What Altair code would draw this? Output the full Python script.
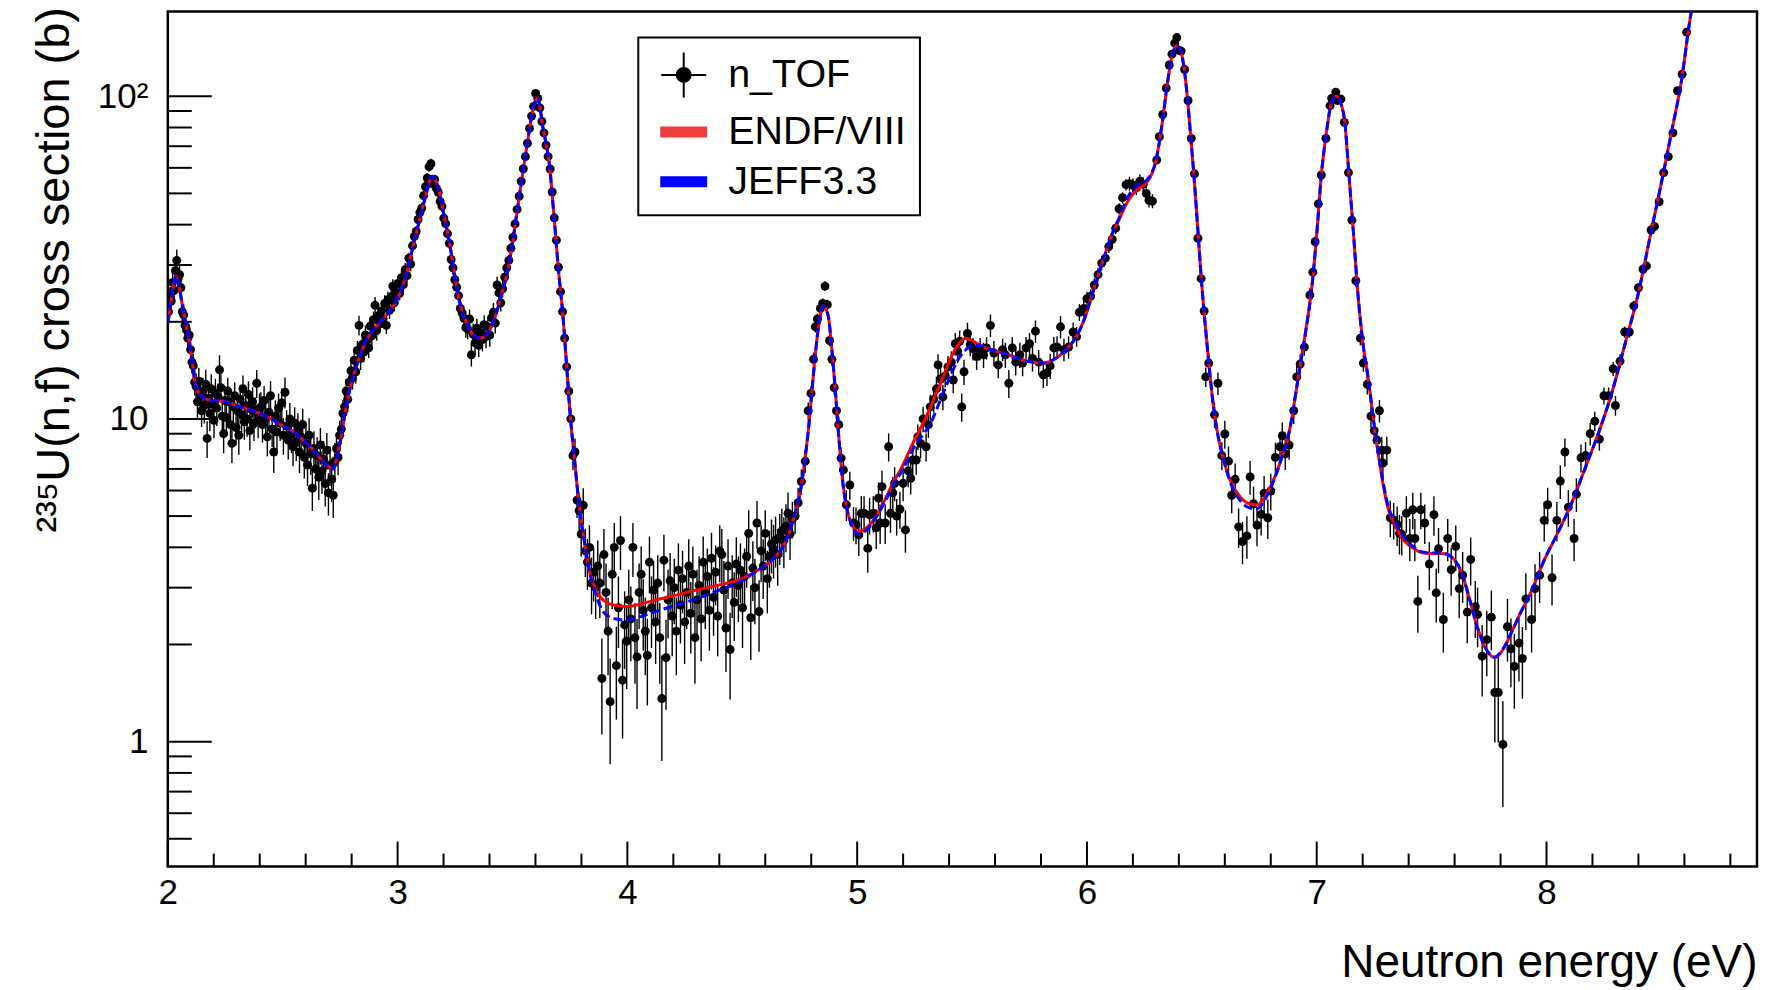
import altair as alt
import pandas as pd

FONT = "Liberation Sans"

# ---------------- axis ticks ----------------
X_MAJOR = [2, 3, 4, 5, 6, 7, 8]
X_MINOR = [2.2, 2.4, 2.6, 2.8, 3.2, 3.4, 3.6, 3.8, 4.2, 4.4, 4.6, 4.8, 5.2, 5.4, 5.6, 5.8,
           6.2, 6.4, 6.6, 6.8, 7.2, 7.4, 7.6, 7.8, 8.2, 8.4, 8.6, 8.8]
Y_MAJOR = [1, 10, 100]
Y_MINOR = [0.5, 0.6, 0.7, 0.8, 0.9, 2, 3, 4, 5, 6, 7, 8, 9, 20, 30, 40, 50, 60, 70, 80, 90]

SERIES = ["n_TOF", "ENDF/VIII", "JEFF3.3"]

# ---------------- evaluated data: (E, ENDF/VIII, JEFF3.3) ----------------
EVAL = [
    (2.000, 19.8, 19.8), (2.012, 22.5, 22.5), (2.024, 25.8, 25.8), (2.036, 27.8, 27.8),
    (2.048, 26.0, 26.0), (2.060, 23.2, 23.2), (2.075, 20.3, 20.3), (2.090, 18.0, 18.0),
    (2.105, 15.3, 15.3), (2.120, 12.8, 12.8), (2.140, 11.9, 11.9), (2.170, 11.5, 11.5),
    (2.200, 11.4, 11.4), (2.250, 11.3, 11.3), (2.300, 11.0, 11.0), (2.350, 10.7, 10.7),
    (2.400, 10.4, 10.4), (2.450, 10.0, 10.0), (2.500, 9.5, 9.5), (2.540, 9.2, 9.2),
    (2.580, 8.7, 8.7), (2.620, 8.2, 8.2), (2.660, 7.6, 7.6), (2.700, 7.1, 7.1),
    (2.720, 7.0, 7.0), (2.740, 7.8, 7.8), (2.760, 9.3, 9.3), (2.780, 11.3, 11.3),
    (2.800, 13.0, 13.0), (2.820, 14.5, 14.5), (2.840, 15.9, 15.9), (2.860, 17.3, 17.3),
    (2.890, 18.7, 18.7), (2.920, 19.8, 19.8), (2.950, 20.9, 20.9), (2.980, 22.3, 22.3),
    (3.010, 24.5, 24.5), (3.040, 28.3, 28.3), (3.070, 35.0, 35.0), (3.100, 42.5, 42.5),
    (3.125, 50.0, 50.0), (3.150, 56.5, 56.5), (3.165, 55.0, 55.0), (3.180, 51.0, 51.0),
    (3.200, 43.5, 43.5), (3.225, 35.5, 35.5), (3.250, 27.5, 27.5), (3.275, 22.3, 22.3),
    (3.300, 19.8, 19.8), (3.330, 18.2, 18.2), (3.360, 17.8, 17.8), (3.390, 18.4, 18.4),
    (3.420, 20.2, 20.2), (3.450, 24.0, 24.0), (3.480, 29.0, 29.0), (3.500, 35.0, 35.0),
    (3.520, 44.0, 44.0), (3.540, 55.0, 55.0), (3.560, 68.0, 68.0), (3.580, 84.0, 84.0),
    (3.600, 97.0, 97.0), (3.610, 99.0, 99.0), (3.620, 92.0, 92.0), (3.630, 82.0, 82.0),
    (3.645, 72.0, 72.0), (3.660, 62.0, 62.0), (3.680, 43.0, 43.0), (3.700, 29.0, 29.0),
    (3.720, 20.7, 20.7), (3.735, 14.8, 14.8), (3.750, 10.5, 10.5), (3.770, 7.5, 7.5),
    (3.790, 5.4, 5.4), (3.810, 4.3, 4.3), (3.830, 3.5, 3.5), (3.860, 2.97, 2.90),
    (3.900, 2.73, 2.50), (3.950, 2.64, 2.40), (4.000, 2.62, 2.38), (4.050, 2.66, 2.43),
    (4.100, 2.72, 2.50), (4.200, 2.83, 2.63), (4.300, 2.95, 2.77), (4.400, 3.06, 2.95),
    (4.500, 3.20, 3.15), (4.560, 3.37, 3.37), (4.620, 3.60, 3.60), (4.660, 3.85, 3.85),
    (4.700, 4.35, 4.35), (4.730, 5.1, 5.1), (4.743, 5.5, 5.5), (4.774, 7.6, 7.6),
    (4.790, 9.6, 9.6), (4.800, 11.5, 11.5), (4.820, 16.4, 16.4), (4.835, 20.0, 20.0),
    (4.852, 22.4, 22.4), (4.865, 21.8, 21.8), (4.875, 20.7, 20.7), (4.890, 16.4, 16.4),
    (4.906, 12.0, 12.0), (4.920, 8.8, 8.8), (4.938, 6.3, 6.3), (4.960, 5.1, 5.1),
    (4.985, 4.6, 4.55), (5.007, 4.48, 4.40), (5.040, 4.6, 4.52), (5.070, 4.85, 4.8),
    (5.100, 5.25, 5.2), (5.130, 5.8, 5.7), (5.160, 6.4, 6.3), (5.195, 7.1, 6.9),
    (5.225, 7.9, 7.6), (5.256, 8.8, 8.4), (5.290, 9.8, 9.0), (5.320, 10.9, 9.7),
    (5.350, 12.3, 10.9), (5.380, 13.8, 12.3), (5.410, 15.6, 13.8), (5.440, 17.0, 15.3),
    (5.470, 17.8, 16.3), (5.500, 17.5, 16.9), (5.530, 17.0, 16.9), (5.570, 16.5, 16.5),
    (5.620, 16.1, 16.1), (5.660, 15.8, 15.8), (5.710, 15.3, 15.3), (5.760, 15.0, 15.0),
    (5.815, 14.9, 14.9), (5.850, 15.2, 15.2), (5.880, 15.7, 15.7), (5.920, 16.7, 16.7),
    (5.950, 17.8, 17.8), (5.975, 19.3, 19.3), (6.000, 21.5, 21.5), (6.020, 24.0, 24.0),
    (6.050, 28.0, 28.0), (6.080, 32.5, 32.5), (6.100, 36.0, 36.0), (6.140, 41.5, 42.0),
    (6.180, 47.5, 49.0), (6.220, 51.5, 53.0), (6.260, 54.0, 55.0), (6.285, 58.0, 58.5),
    (6.300, 63.0, 63.0), (6.315, 72.0, 72.0), (6.330, 85.0, 85.0), (6.345, 103.0, 103.0),
    (6.360, 122.0, 122.0), (6.375, 137.0, 137.0), (6.390, 143.0, 143.0), (6.405, 140.0, 140.0),
    (6.420, 126.0, 126.0), (6.440, 94.0, 94.0), (6.455, 70.0, 70.0), (6.465, 57.5, 57.5),
    (6.475, 46.0, 46.0), (6.485, 36.5, 36.5), (6.497, 27.5, 27.5), (6.510, 21.3, 21.3),
    (6.530, 15.0, 15.0), (6.550, 11.0, 11.0), (6.570, 8.9, 8.9), (6.590, 7.7, 7.7),
    (6.630, 6.3, 6.2), (6.670, 5.7, 5.55), (6.710, 5.45, 5.3), (6.740, 5.42, 5.28),
    (6.790, 6.0, 5.9), (6.840, 7.3, 7.3), (6.884, 9.4, 9.4), (6.920, 13.5, 13.5),
    (6.950, 18.3, 18.3), (6.980, 26.1, 26.1), (7.000, 37.3, 37.3), (7.020, 57.0, 57.0),
    (7.043, 78.0, 78.0), (7.065, 96.0, 96.0), (7.085, 100.0, 100.0), (7.105, 95.0, 95.0),
    (7.123, 82.0, 82.0), (7.138, 60.0, 60.0), (7.160, 37.5, 37.5), (7.180, 24.0, 24.0),
    (7.200, 17.4, 17.4), (7.225, 13.2, 13.2), (7.250, 9.5, 9.6), (7.270, 7.6, 7.7),
    (7.290, 6.2, 6.3), (7.310, 5.3, 5.4), (7.340, 4.7, 4.8), (7.380, 4.2, 4.3),
    (7.420, 3.98, 4.02), (7.460, 3.85, 3.87), (7.500, 3.83, 3.84), (7.540, 3.83, 3.84),
    (7.570, 3.80, 3.80), (7.600, 3.65, 3.65), (7.630, 3.35, 3.35), (7.660, 2.85, 2.85),
    (7.700, 2.25, 2.25), (7.740, 1.92, 1.92), (7.775, 1.82, 1.83), (7.800, 1.88, 1.89),
    (7.820, 1.98, 1.99), (7.850, 2.2, 2.2), (7.880, 2.45, 2.45), (7.935, 2.93, 2.93),
    (7.990, 3.65, 3.65), (8.050, 4.45, 4.45), (8.110, 5.5, 5.5), (8.170, 7.1, 7.1),
    (8.225, 9.0, 9.0), (8.285, 12.1, 12.1), (8.340, 16.9, 16.9), (8.400, 24.6, 24.6),
    (8.455, 38.0, 38.0), (8.500, 54.0, 54.0), (8.545, 78.0, 78.0), (8.590, 115.0, 115.0),
    (8.620, 165.0, 165.0), (8.650, 220.0, 220.0),
]

# ---------------- n_TOF data: (E [eV], sigma [b], relative error) ----------------
NTOF_200 = [
    (2.003, 21.5, 0.07), (2.009, 24.0, 0.07), (2.015, 23.2, 0.08), (2.021, 26.5, 0.07),
    (2.027, 25.0, 0.08), (2.033, 28.8, 0.07), (2.039, 31.0, 0.08), (2.045, 27.2, 0.07),
    (2.051, 28.0, 0.07), (2.057, 25.5, 0.08), (2.063, 21.5, 0.07), (2.069, 21.0, 0.08),
    (2.075, 19.5, 0.08), (2.081, 18.9, 0.07), (2.087, 17.8, 0.08), (2.093, 18.2, 0.08),
    (2.099, 16.4, 0.09), (2.105, 15.0, 0.08), (2.111, 14.6, 0.09), (2.117, 13.0, 0.09),
]
NTOF_212 = [
    (2.123, 12.6, 0.10), (2.129, 11.3, 0.11), (2.135, 13.1, 0.10), (2.141, 11.9, 0.12),
    (2.147, 10.6, 0.11), (2.153, 12.2, 0.10), (2.159, 11.0, 0.12), (2.165, 12.8, 0.11),
    (2.171, 8.7, 0.13), (2.177, 11.6, 0.10), (2.183, 10.4, 0.12), (2.189, 12.4, 0.11),
    (2.195, 11.1, 0.10), (2.201, 9.9, 0.12), (2.207, 12.0, 0.11), (2.213, 10.8, 0.12),
    (2.219, 11.7, 0.10), (2.225, 14.2, 0.11), (2.231, 12.5, 0.10), (2.237, 10.2, 0.12),
    (2.243, 9.0, 0.13), (2.249, 11.4, 0.11), (2.255, 10.1, 0.12), (2.261, 12.2, 0.10),
    (2.267, 11.3, 0.11), (2.273, 9.6, 0.12), (2.279, 8.4, 0.13), (2.285, 10.9, 0.11),
    (2.291, 11.8, 0.10), (2.297, 9.4, 0.12), (2.303, 10.6, 0.11), (2.309, 8.9, 0.13),
    (2.315, 11.5, 0.11), (2.321, 10.3, 0.12), (2.327, 12.4, 0.10), (2.333, 9.8, 0.12),
    (2.339, 11.0, 0.11), (2.345, 10.0, 0.12), (2.351, 11.9, 0.10), (2.357, 9.2, 0.13),
    (2.363, 10.7, 0.11), (2.369, 11.3, 0.11), (2.375, 9.7, 0.12), (2.381, 10.5, 0.11),
    (2.387, 12.9, 0.10), (2.393, 9.9, 0.12), (2.399, 10.8, 0.11),
]
NTOF_240 = [
    (2.405, 10.9, 0.11), (2.412, 9.6, 0.12), (2.419, 11.4, 0.11), (2.426, 10.1, 0.12),
    (2.433, 8.8, 0.13), (2.440, 10.5, 0.11), (2.447, 11.8, 0.11), (2.454, 9.3, 0.12),
    (2.461, 7.9, 0.14), (2.468, 10.2, 0.12), (2.475, 9.1, 0.12), (2.482, 10.8, 0.11),
    (2.489, 9.7, 0.12), (2.496, 11.2, 0.11), (2.503, 8.9, 0.13), (2.510, 12.1, 0.11),
    (2.517, 9.5, 0.12), (2.524, 8.6, 0.13), (2.531, 10.0, 0.12), (2.538, 9.0, 0.13),
    (2.545, 8.2, 0.13), (2.552, 9.7, 0.12), (2.559, 8.5, 0.13), (2.566, 9.3, 0.12),
    (2.573, 7.9, 0.14), (2.580, 8.8, 0.13), (2.587, 9.6, 0.12), (2.594, 7.6, 0.14),
    (2.601, 8.4, 0.13), (2.608, 7.2, 0.14), (2.615, 8.9, 0.13), (2.622, 7.8, 0.14),
    (2.629, 6.1, 0.15), (2.636, 8.1, 0.13), (2.643, 7.0, 0.14), (2.650, 7.7, 0.14),
    (2.657, 6.6, 0.15), (2.664, 8.3, 0.13), (2.671, 6.9, 0.15), (2.678, 7.5, 0.14),
    (2.685, 6.3, 0.15), (2.692, 8.0, 0.13), (2.699, 5.9, 0.15), (2.706, 7.2, 0.14),
    (2.713, 6.5, 0.15), (2.720, 5.8, 0.15), (2.727, 7.4, 0.14),
]
NTOF_273 = [
    (2.734, 8.1, 0.12), (2.741, 7.6, 0.12), (2.748, 8.9, 0.11), (2.755, 9.3, 0.10),
    (2.762, 10.4, 0.10), (2.769, 10.9, 0.09), (2.776, 12.2, 0.09), (2.783, 11.5, 0.09),
    (2.790, 13.0, 0.08), (2.797, 14.1, 0.08), (2.804, 13.4, 0.08), (2.811, 15.2, 0.08),
    (2.818, 14.0, 0.08), (2.825, 16.3, 0.07), (2.832, 19.5, 0.07), (2.839, 15.4, 0.08),
    (2.846, 17.0, 0.07), (2.853, 16.1, 0.07), (2.860, 18.2, 0.07), (2.867, 17.5, 0.07),
    (2.874, 16.6, 0.07), (2.881, 19.4, 0.06), (2.888, 18.1, 0.07), (2.895, 20.3, 0.06),
    (2.902, 22.5, 0.06), (2.909, 18.8, 0.07), (2.916, 20.9, 0.06), (2.923, 19.7, 0.06),
    (2.930, 21.6, 0.06), (2.937, 20.4, 0.06), (2.944, 22.8, 0.06), (2.951, 19.5, 0.06),
    (2.958, 23.4, 0.06), (2.965, 21.7, 0.06), (2.972, 23.9, 0.05), (2.979, 25.8, 0.05),
    (2.986, 22.9, 0.06), (2.993, 24.6, 0.05),
]
NTOF_300 = [
    (3.001, 26.3, 0.05), (3.009, 24.5, 0.05), (3.017, 27.4, 0.05), (3.025, 26.1, 0.05),
    (3.033, 29.0, 0.05), (3.041, 27.8, 0.05), (3.049, 31.5, 0.04), (3.057, 30.2, 0.05),
    (3.065, 34.4, 0.04), (3.073, 36.8, 0.04), (3.081, 38.1, 0.04), (3.089, 41.5, 0.04),
    (3.097, 43.6, 0.04), (3.105, 45.0, 0.04), (3.113, 49.2, 0.04), (3.121, 52.5, 0.04),
    (3.129, 55.8, 0.035), (3.137, 60.5, 0.035), (3.145, 61.8, 0.035), (3.153, 53.5, 0.04),
    (3.161, 55.2, 0.035), (3.169, 51.8, 0.04), (3.177, 50.4, 0.04), (3.185, 47.2, 0.04),
    (3.193, 45.6, 0.04), (3.201, 41.9, 0.04), (3.209, 40.3, 0.04), (3.217, 37.5, 0.04),
    (3.225, 35.0, 0.04), (3.233, 31.2, 0.05), (3.241, 29.4, 0.05), (3.249, 27.0, 0.05),
    (3.257, 25.6, 0.05), (3.265, 24.1, 0.05), (3.273, 22.0, 0.06), (3.281, 21.3, 0.06),
    (3.289, 20.5, 0.06), (3.297, 19.2, 0.07),
]
NTOF_330 = [
    (3.305, 19.0, 0.07), (3.313, 20.4, 0.07), (3.321, 15.8, 0.08), (3.329, 18.3, 0.08),
    (3.337, 17.2, 0.08), (3.345, 19.1, 0.07), (3.353, 16.9, 0.08), (3.361, 18.5, 0.08),
    (3.369, 17.6, 0.08), (3.377, 19.6, 0.07), (3.385, 18.0, 0.08), (3.393, 19.3, 0.07),
    (3.401, 18.2, 0.08), (3.409, 20.6, 0.07), (3.417, 21.4, 0.07), (3.425, 19.8, 0.07),
    (3.433, 26.0, 0.06), (3.441, 24.6, 0.06), (3.449, 22.9, 0.06), (3.457, 25.3, 0.06),
]
NTOF_346 = [
    (3.466, 27.5, 0.05), (3.475, 29.4, 0.05), (3.484, 31.0, 0.04), (3.493, 33.8, 0.04),
    (3.502, 36.5, 0.04), (3.511, 40.2, 0.035), (3.520, 44.6, 0.03), (3.529, 49.0, 0.03),
    (3.538, 54.5, 0.03), (3.547, 59.6, 0.03), (3.556, 65.0, 0.025), (3.565, 71.5, 0.025),
    (3.574, 79.5, 0.025), (3.583, 86.8, 0.02), (3.592, 93.0, 0.02), (3.601, 102.0, 0.02),
    (3.610, 98.5, 0.02), (3.619, 92.0, 0.02), (3.628, 83.5, 0.02), (3.637, 77.0, 0.025),
    (3.646, 70.5, 0.025), (3.655, 65.0, 0.025), (3.664, 59.5, 0.03), (3.673, 50.5, 0.03),
    (3.682, 42.0, 0.03), (3.691, 35.8, 0.035), (3.700, 29.5, 0.04), (3.709, 24.8, 0.04),
    (3.718, 21.5, 0.05), (3.727, 17.8, 0.05), (3.736, 14.5, 0.06), (3.745, 12.2, 0.07),
    (3.754, 10.0, 0.08),
]
NTOF_376 = [
    (3.763, 7.7, 0.10), (3.772, 7.9, 0.10), (3.781, 5.6, 0.12), (3.790, 5.2, 0.13),
    (3.799, 4.4, 0.15), (3.808, 5.4, 0.13), (3.817, 3.9, 0.17), (3.826, 3.6, 0.18),
    (3.835, 4.0, 0.17), (3.844, 3.1, 0.20), (3.853, 3.35, 0.19), (3.862, 3.0, 0.20),
]
NTOF_387 = [
    (3.871, 3.5, 0.20), (3.880, 3.1, 0.22), (3.889, 1.57, 0.33), (3.898, 3.8, 0.20),
    (3.907, 2.9, 0.23), (3.916, 2.2, 0.27), (3.925, 1.33, 0.36), (3.934, 3.3, 0.22),
    (3.943, 4.0, 0.19), (3.952, 1.72, 0.32), (3.961, 2.6, 0.25), (3.970, 4.2, 0.19),
    (3.979, 1.55, 0.34), (3.988, 2.3, 0.27), (3.997, 2.05, 0.29), (4.006, 2.75, 0.24),
    (4.015, 2.4, 0.26), (4.024, 4.0, 0.19), (4.033, 2.1, 0.28), (4.042, 1.83, 0.31),
    (4.051, 2.9, 0.23), (4.060, 3.3, 0.22), (4.069, 2.55, 0.25), (4.078, 2.2, 0.27),
    (4.087, 1.85, 0.30), (4.096, 3.6, 0.20), (4.105, 2.6, 0.25), (4.114, 2.95, 0.23),
    (4.123, 2.35, 0.26), (4.132, 3.1, 0.22), (4.141, 2.1, 0.28), (4.150, 1.36, 0.36),
    (4.159, 3.65, 0.20), (4.168, 1.82, 0.31), (4.177, 2.75, 0.24), (4.186, 3.15, 0.22),
    (4.195, 2.45, 0.25), (4.204, 3.0, 0.23), (4.213, 2.2, 0.27), (4.222, 3.4, 0.21),
    (4.231, 2.65, 0.24), (4.240, 3.2, 0.22), (4.249, 2.35, 0.26), (4.258, 2.9, 0.23),
    (4.267, 3.5, 0.21), (4.276, 2.5, 0.25), (4.285, 3.3, 0.22), (4.294, 2.1, 0.28),
    (4.303, 2.75, 0.24), (4.312, 3.05, 0.23), (4.321, 2.4, 0.26), (4.330, 3.6, 0.20),
    (4.339, 2.9, 0.23), (4.348, 3.25, 0.22), (4.357, 2.55, 0.25), (4.366, 3.7, 0.20),
    (4.375, 2.8, 0.24), (4.384, 3.35, 0.21), (4.393, 2.45, 0.25), (4.402, 3.9, 0.20),
    (4.411, 3.8, 0.20), (4.420, 2.95, 0.23), (4.429, 2.25, 0.27), (4.438, 3.5, 0.21),
    (4.447, 1.93, 0.30), (4.456, 3.1, 0.22), (4.465, 2.7, 0.24), (4.474, 3.55, 0.21),
    (4.483, 3.05, 0.23), (4.492, 3.4, 0.21), (4.501, 2.6, 0.25), (4.510, 3.25, 0.22),
    (4.519, 3.75, 0.20), (4.528, 4.42, 0.18), (4.537, 2.42, 0.26), (4.546, 3.45, 0.21),
    (4.555, 3.0, 0.23), (4.564, 4.76, 0.17), (4.573, 2.53, 0.25), (4.582, 3.9, 0.20),
    (4.591, 3.5, 0.21), (4.600, 4.42, 0.18), (4.609, 3.2, 0.22), (4.618, 3.75, 0.20),
    (4.627, 4.1, 0.19), (4.636, 3.95, 0.19), (4.645, 4.22, 0.18), (4.654, 3.8, 0.20),
    (4.663, 4.3, 0.18), (4.672, 4.5, 0.17), (4.681, 4.2, 0.18), (4.690, 4.65, 0.17),
    (4.699, 5.1, 0.16), (4.708, 4.4, 0.17),
]
NTOF_471 = [
    (4.718, 4.9, 0.13), (4.730, 5.0, 0.12), (4.743, 5.5, 0.11), (4.757, 6.4, 0.09),
    (4.774, 7.4, 0.08), (4.787, 10.6, 0.06), (4.799, 12.0, 0.05), (4.810, 15.3, 0.05),
    (4.818, 19.3, 0.04), (4.827, 20.4, 0.04), (4.840, 22.0, 0.035), (4.850, 22.8, 0.035),
    (4.860, 25.8, 0.035), (4.870, 22.6, 0.035), (4.880, 17.5, 0.04), (4.890, 15.3, 0.045),
    (4.900, 12.5, 0.05), (4.910, 10.6, 0.055), (4.920, 9.6, 0.06), (4.930, 7.56, 0.08),
    (4.940, 6.95, 0.09), (4.953, 5.42, 0.11), (4.968, 6.24, 0.10), (4.984, 4.76, 0.12),
    (4.995, 4.7, 0.13),
]
NTOF_500 = [
    (5.007, 4.37, 0.14), (5.018, 5.1, 0.13), (5.030, 5.1, 0.13), (5.046, 3.97, 0.16),
    (5.054, 5.04, 0.13), (5.070, 5.1, 0.13), (5.083, 4.6, 0.14), (5.093, 5.68, 0.12),
    (5.100, 4.76, 0.14), (5.108, 6.17, 0.12), (5.122, 4.76, 0.14), (5.137, 8.2, 0.10),
    (5.145, 5.1, 0.13), (5.155, 5.9, 0.12), (5.163, 6.32, 0.12), (5.172, 5.0, 0.13),
    (5.186, 5.25, 0.13), (5.200, 6.32, 0.12), (5.210, 4.53, 0.15), (5.222, 6.9, 0.11),
    (5.233, 6.55, 0.11), (5.242, 7.46, 0.10),
]
NTOF_525 = [
    (5.257, 7.46, 0.10), (5.264, 8.81, 0.09), (5.276, 8.4, 0.10), (5.287, 10.0, 0.09),
    (5.300, 8.2, 0.10), (5.310, 9.6, 0.09), (5.318, 10.9, 0.09), (5.333, 11.5, 0.09),
    (5.345, 12.4, 0.09), (5.352, 14.7, 0.08), (5.363, 13.3, 0.08), (5.373, 11.7, 0.09),
    (5.383, 13.6, 0.08), (5.395, 14.5, 0.08), (5.410, 15.0, 0.08), (5.418, 13.2, 0.09),
    (5.427, 17.1, 0.08), (5.437, 16.2, 0.08), (5.446, 17.4, 0.08), (5.455, 10.9, 0.10),
    (5.465, 14.0, 0.09), (5.480, 18.4, 0.08), (5.492, 17.0, 0.08),
]
NTOF_550 = [
    (5.504, 16.5, 0.08), (5.520, 15.6, 0.09), (5.535, 16.5, 0.08), (5.550, 15.8, 0.09),
    (5.563, 16.6, 0.08), (5.580, 19.5, 0.08), (5.595, 16.0, 0.09), (5.614, 14.7, 0.09),
    (5.633, 16.4, 0.08), (5.645, 15.8, 0.09), (5.660, 12.9, 0.10), (5.675, 16.6, 0.08),
    (5.690, 15.0, 0.09), (5.708, 15.8, 0.09), (5.720, 14.9, 0.09), (5.735, 16.6, 0.08),
    (5.750, 17.1, 0.08), (5.763, 15.4, 0.09), (5.776, 18.7, 0.08), (5.790, 15.0, 0.09),
    (5.810, 13.7, 0.09), (5.826, 13.9, 0.09), (5.840, 14.6, 0.09), (5.856, 16.6, 0.08),
    (5.870, 16.7, 0.08), (5.885, 19.3, 0.08), (5.900, 16.4, 0.08), (5.920, 16.7, 0.08),
    (5.940, 18.6, 0.07),
]
NTOF_595 = [
    (5.955, 18.0, 0.07), (5.967, 21.4, 0.06), (5.986, 22.0, 0.06), (6.000, 23.6, 0.05),
    (6.016, 24.0, 0.05), (6.032, 26.0, 0.05), (6.048, 28.0, 0.05), (6.064, 30.4, 0.05),
    (6.080, 31.5, 0.045), (6.095, 34.2, 0.045), (6.110, 36.0, 0.045), (6.125, 39.0, 0.04),
    (6.140, 44.8, 0.04), (6.155, 48.5, 0.04), (6.170, 53.2, 0.04), (6.185, 53.6, 0.05),
    (6.200, 53.0, 0.05), (6.215, 52.0, 0.05), (6.230, 54.5, 0.05), (6.245, 53.4, 0.05),
    (6.258, 50.0, 0.05), (6.270, 47.6, 0.05), (6.285, 47.3, 0.05),
]
NTOF_630 = [
    (6.304, 63.5, 0.03), (6.315, 74.9, 0.025), (6.330, 87.8, 0.025), (6.345, 106.0, 0.02),
    (6.358, 125.0, 0.02), (6.370, 135.0, 0.02), (6.382, 146.0, 0.02), (6.391, 152.0, 0.02),
    (6.400, 139.0, 0.02), (6.410, 138.0, 0.02), (6.425, 121.0, 0.02), (6.440, 97.0, 0.02),
    (6.454, 74.0, 0.025), (6.468, 57.5, 0.025), (6.483, 36.3, 0.03), (6.497, 27.2, 0.04),
    (6.510, 21.6, 0.05),
]
NTOF_652 = [
    (6.517, 13.5, 0.07), (6.530, 14.9, 0.07), (6.555, 10.3, 0.09), (6.570, 12.9, 0.08),
    (6.587, 7.7, 0.10), (6.600, 8.98, 0.10), (6.616, 7.4, 0.11), (6.630, 5.8, 0.12),
    (6.645, 6.5, 0.12), (6.660, 4.63, 0.14), (6.677, 4.17, 0.15), (6.696, 4.34, 0.15),
    (6.710, 6.61, 0.12), (6.725, 5.46, 0.13), (6.740, 4.69, 0.14), (6.758, 5.06, 0.14),
    (6.771, 5.89, 0.13), (6.787, 4.94, 0.14), (6.800, 5.98, 0.13), (6.820, 7.6, 0.11),
    (6.840, 8.2, 0.10), (6.850, 8.87, 0.10), (6.863, 7.8, 0.11), (6.880, 8.3, 0.10),
    (6.900, 10.6, 0.09), (6.913, 13.5, 0.08), (6.928, 14.8, 0.07), (6.946, 16.7, 0.06),
]
NTOF_695 = [
    (6.970, 24.2, 0.05), (6.983, 28.5, 0.04), (6.993, 35.4, 0.04), (7.007, 46.4, 0.03),
    (7.020, 57.0, 0.03), (7.040, 74.0, 0.025), (7.058, 93.5, 0.02), (7.065, 98.5, 0.02),
    (7.075, 99.0, 0.02), (7.083, 103.0, 0.02), (7.090, 97.0, 0.02), (7.105, 98.0, 0.02),
    (7.120, 83.0, 0.02), (7.138, 58.0, 0.025), (7.153, 41.3, 0.03), (7.170, 26.8, 0.04),
    (7.190, 17.8, 0.05), (7.203, 14.9, 0.06),
]
NTOF_722 = [
    (7.220, 12.8, 0.07), (7.236, 10.2, 0.08), (7.250, 9.2, 0.09), (7.262, 8.6, 0.09),
    (7.273, 10.6, 0.08), (7.283, 8.0, 0.10), (7.288, 7.3, 0.10), (7.305, 8.0, 0.10),
]
NTOF_732 = [
    (7.320, 4.94, 0.13), (7.335, 4.86, 0.13), (7.350, 4.7, 0.14), (7.360, 4.42, 0.14),
    (7.370, 4.39, 0.14), (7.390, 5.1, 0.13), (7.405, 4.26, 0.15), (7.418, 5.23, 0.13),
    (7.427, 4.26, 0.15), (7.440, 2.72, 0.20), (7.453, 5.23, 0.13), (7.470, 4.76, 0.14),
    (7.490, 3.55, 0.17), (7.510, 5.05, 0.14), (7.520, 2.89, 0.19), (7.530, 3.96, 0.16),
    (7.551, 2.39, 0.21), (7.570, 4.26, 0.15), (7.585, 3.41, 0.17), (7.605, 4.03, 0.16),
    (7.620, 2.98, 0.19), (7.635, 3.28, 0.18), (7.655, 2.52, 0.20), (7.670, 3.67, 0.17),
    (7.690, 2.62, 0.20),
]
NTOF_770 = [
    (7.700, 2.48, 0.21), (7.720, 1.84, 0.25), (7.740, 2.07, 0.23), (7.760, 2.43, 0.21),
    (7.775, 1.42, 0.30), (7.790, 1.42, 0.30), (7.810, 0.98, 0.36), (7.830, 2.27, 0.22),
    (7.845, 1.94, 0.24), (7.860, 1.71, 0.26), (7.880, 2.02, 0.24), (7.895, 1.81, 0.25),
    (7.910, 2.77, 0.20), (7.935, 2.39, 0.21), (7.950, 2.98, 0.19), (7.970, 3.28, 0.18),
    (7.990, 4.85, 0.14),
]
NTOF_800 = [
    (8.005, 5.42, 0.13), (8.024, 3.22, 0.18), (8.045, 4.85, 0.14), (8.060, 6.42, 0.12),
    (8.080, 7.9, 0.10), (8.095, 5.33, 0.13), (8.120, 4.26, 0.15), (8.130, 5.85, 0.12),
    (8.150, 7.58, 0.10), (8.170, 7.7, 0.10), (8.190, 9.0, 0.08), (8.210, 9.84, 0.07),
    (8.230, 8.66, 0.08), (8.250, 11.8, 0.06), (8.270, 11.8, 0.06), (8.290, 14.3, 0.05),
    (8.300, 11.0, 0.07), (8.320, 15.1, 0.05), (8.340, 18.6, 0.04), (8.360, 18.6, 0.04),
    (8.380, 22.4, 0.035), (8.400, 25.5, 0.03), (8.420, 29.1, 0.03), (8.435, 29.8, 0.03),
    (8.455, 38.5, 0.025), (8.470, 39.5, 0.025), (8.490, 47.1, 0.02), (8.510, 58.0, 0.02),
    (8.530, 65.0, 0.02), (8.550, 77.0, 0.02), (8.570, 104.0, 0.02), (8.590, 117.0, 0.02),
    (8.610, 158.0, 0.02),
]

SEGMENTS = [NTOF_200, NTOF_212, NTOF_240, NTOF_273, NTOF_300, NTOF_330, NTOF_346, NTOF_376,
            NTOF_387, NTOF_471, NTOF_500, NTOF_525, NTOF_550, NTOF_595, NTOF_630, NTOF_652,
            NTOF_695, NTOF_722, NTOF_732, NTOF_770, NTOF_800]

# ---------------- tables ----------------
rows = []
for seg in SEGMENTS:
    for e, s, r in seg:
        rows.append({"E": e, "v": s, "lo": s * (1 - r), "hi": s * (1 + r)})
pts = pd.DataFrame(rows)

endf = pd.DataFrame({"E": [p[0] for p in EVAL], "v": [p[1] for p in EVAL]})
jeff = pd.DataFrame({"E": [p[0] for p in EVAL], "v": [p[2] for p in EVAL]})
keys = pd.DataFrame({"series": SERIES})

xmaj = pd.DataFrame({"E": X_MAJOR})
xmin = pd.DataFrame({"E": X_MINOR})
ymaj = pd.DataFrame({"v": Y_MAJOR})
ymin = pd.DataFrame({"v": Y_MINOR})

# ---------------- scales / axes ----------------
W, H = 1591, 856
xscale = alt.Scale(domain=[2, 8.916], nice=False, zero=False)
yscale = alt.Scale(type="log", domain=[0.41, 183], nice=False)

xaxis = alt.Axis(values=X_MAJOR, format="d", ticks=False, tickSize=0, domain=False, grid=False,
                 labelFont=FONT, labelFontSize=35, labelColor="black", labelPadding=9,
                 labelFlush=False, labelOverlap=False,
                 title="Neutron energy (eV)", titleFont=FONT, titleFontSize=46,
                 titleFontWeight="normal", titleColor="black",
                 titleX=W, titleY=110, titleAlign="right", titleBaseline="alphabetic",
                 titleAnchor="end")
yaxis = alt.Axis(values=Y_MAJOR, labelExpr="datum.value >= 100 ? '10²' : format(datum.value, 'd')",
                 ticks=False, tickSize=0, domain=False, grid=False,
                 labelFont=FONT, labelFontSize=35, labelColor="black", labelPadding=20,
                 labelFlush=False, labelOverlap=False,
                 title="²³⁵U(n,f) cross section (b)", titleFont=FONT, titleFontSize=47,
                 titleFontWeight="normal", titleColor="black",
                 titleX=-99, titleY=-5, titleAngle=270, titleAlign="right",
                 titleBaseline="alphabetic", titleAnchor="end")

X = alt.X("E:Q", scale=xscale, axis=xaxis)
Y = alt.Y("v:Q", scale=yscale, axis=yaxis)

# legend key symbols: marker with error-bar cross, and thick line swatches
CROSS = "M-1,0H1M0,-1V1M-0.31,0A0.31,0.31,0,1,1,0.31,0A0.31,0.31,0,1,1,-0.31,0Z"
BAR = "M-1,-0.2H1V0.2H-1Z"
fscale = alt.Scale(domain=SERIES, range=["black", "#f03c3c", "#0000ff"])
sscale = alt.Scale(domain=SERIES, range=["black", "#f03c3c", "#0000ff"])
shscale = alt.Scale(domain=SERIES, range=[CROSS, BAR, BAR])
LEG = alt.Legend(
    title=None, orient="none", legendX=471, legendY=26, direction="vertical",
    fillColor="white", strokeColor="black", padding=14,
    labelFont=FONT, labelFontSize=39.5, labelColor="black", labelLimit=700,
    labelOffset=21, symbolSize=2025, symbolOffset=8, rowPadding=7,
    symbolOpacity=1, symbolStrokeWidth=2,
)

# ---------------- layers ----------------
xminor = alt.Chart(xmin).mark_rule(color="black", strokeWidth=2).encode(
    x=X, y=alt.value(H), y2=alt.value(H - 13))
xmajor = alt.Chart(xmaj).mark_rule(color="black", strokeWidth=2).encode(
    x=X, y=alt.value(H), y2=alt.value(H - 25))
yminor = alt.Chart(ymin).mark_rule(color="black", strokeWidth=2).encode(
    y=Y, x=alt.value(0), x2=alt.value(24))
ymajor = alt.Chart(ymaj).mark_rule(color="black", strokeWidth=2).encode(
    y=Y, x=alt.value(0), x2=alt.value(44))

errs = alt.Chart(pts).mark_rule(color="black", strokeWidth=1.4, clip=True).encode(
    x=X, y=alt.Y("lo:Q", scale=yscale, axis=yaxis), y2="hi:Q")
dots = alt.Chart(pts).mark_circle(size=80, opacity=1, color="black", clip=True).encode(x=X, y=Y)
l_endf = alt.Chart(endf).mark_line(strokeWidth=3, color="#ff0000", clip=True,
                                   interpolate="monotone").encode(x=X, y=Y)
l_jeff = alt.Chart(jeff).mark_line(strokeWidth=3, color="#0000ff", strokeDash=[9, 4], clip=True,
                                   interpolate="monotone").encode(x=X, y=Y)

# legend key (invisible marks, used only to build the legend)
key = alt.Chart(keys).mark_point(filled=True, opacity=0, size=1).encode(
    fill=alt.Fill("series:N", scale=fscale, legend=LEG),
    stroke=alt.Stroke("series:N", scale=sscale, legend=LEG),
    shape=alt.Shape("series:N", scale=shscale, legend=LEG),
)

chart = alt.layer(xminor, xmajor, yminor, ymajor, errs, dots, l_endf, l_jeff, key).properties(
    width=W, height=H,
    padding={"left": 160, "top": 3, "right": 4, "bottom": 121},
    autosize=alt.AutoSizeParams(type="none"),
).configure(font=FONT, background="white").configure_view(
    stroke="black", strokeWidth=2.5).configure_legend(strokeWidth=2)

chart.save("out.html", embed_options={"renderer": "svg", "actions": False})
